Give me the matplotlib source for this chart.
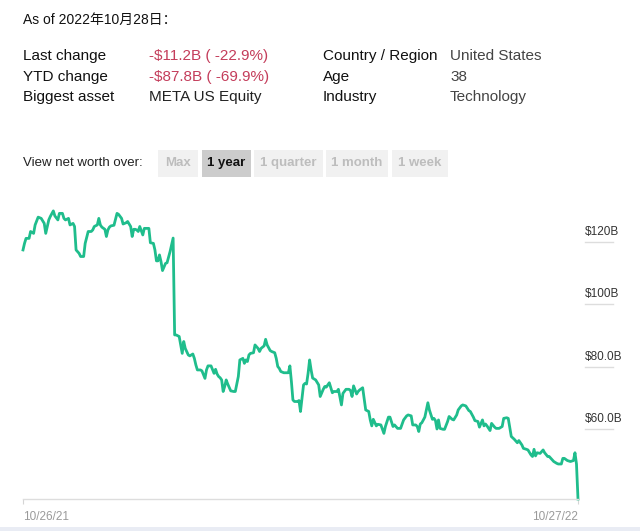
import numpy as np
import pandas as pd
import matplotlib
matplotlib.use("Agg")
import matplotlib.pyplot as plt
import matplotlib.transforms as mtransforms
from matplotlib.patches import Rectangle

plt.rcParams['font.family'] = ['Liberation Sans', 'Noto Sans CJK SC', 'DejaVu Sans']

# ======================
# data
# ======================
START = "2021-10-26"
as_of = "As of 2022年10月28日："

info_left = ["Last change", "YTD change", "Biggest asset"]
info_left_val = ["-$11.2B ( -22.9%)", "-$87.8B ( -69.9%)", "META US Equity"]
info_right = ["Country / Region", "Age", "Industry"]
info_right_val = ["United States", "38", "Technology"]

periods = ["Max", "1 year", "1 quarter", "1 month", "1 week"]
active_period = "1 year"

# days since START
day = [0, 1, 2, 4, 5, 7, 8, 10, 12, 14,
       15, 17, 18, 20, 21, 23, 24, 26, 27, 28,
       30, 31, 33, 34, 35, 37, 38, 40, 41, 43,
       45, 46, 47, 49, 50, 51, 52, 54, 55, 56,
       57, 58, 60, 62, 63, 65, 66, 68, 69, 71,
       72, 73, 74, 75, 76, 77, 78, 79, 80, 82,
       83, 84, 86, 87, 88, 89, 90, 91, 92, 94,
       95, 97, 99, 100, 101, 103, 104, 105, 106, 107,
       109, 110, 112, 113, 114, 115, 117, 118, 120, 121,
       122, 124, 126, 127, 128, 129, 130, 131, 132, 133,
       134, 135, 137, 139, 140, 142, 143, 145, 146, 147,
       148, 149, 150, 152, 153, 155, 156, 157, 159, 160,
       161, 163, 164, 166, 167, 168, 169, 170, 172, 173,
       175, 176, 177, 178, 179, 181, 182, 183, 185, 186,
       187, 188, 189, 190, 191, 193, 195, 196, 198, 199,
       200, 202, 204, 205, 207, 208, 210, 211, 213, 215,
       216, 217, 218, 220, 221, 222, 224, 226, 228, 229,
       230, 231, 233, 234, 236, 238, 239, 241, 242, 244,
       245, 247, 249, 251, 253, 254, 256, 257, 259, 260,
       261, 262, 263, 265, 266, 267, 268, 270, 271, 272,
       273, 274, 275, 277, 278, 280, 281, 283, 284, 286,
       287, 289, 290, 292, 294, 295, 297, 298, 300, 301,
       303, 304, 305, 306, 308, 309, 311, 312, 314, 316,
       317, 319, 320, 321, 322, 324, 326, 327, 329, 330,
       332, 333, 335, 336, 337, 338, 339, 341, 343, 344,
       346, 347, 349, 350, 352, 353, 355, 356, 357, 359,
       361, 363, 364, 365, 366]

# net worth, $B
worth = [117.4, 119.5, 121.1, 121.1, 123.3, 122.7, 125.4, 127.9, 127.5, 125.9,
         122.7, 127.0, 128.1, 129.9, 128.3, 127.0, 129.1, 129.1, 127.5, 127.0,
         127.5, 125.4, 125.9, 124.9, 117.4, 116.3, 115.3, 115.3, 119.5, 123.3,
         123.3, 123.8, 124.9, 125.4, 127.5, 125.4, 124.7, 124.0, 121.7, 123.8,
         124.7, 125.1, 125.3, 129.1, 128.8, 127.5, 125.7, 126.1, 126.5, 124.9,
         121.7, 124.0, 124.0, 123.8, 123.3, 124.9, 123.6, 122.2, 124.3, 124.3,
         124.3, 119.7, 119.5, 117.4, 113.9, 113.9, 115.8, 113.7, 110.8, 113.1,
         113.3, 116.9, 121.2, 90.2, 90.2, 89.7, 87.0, 84.3, 88.1, 85.9,
         83.8, 83.5, 84.1, 82.7, 80.6, 79.0, 79.0, 78.7, 76.3, 79.0,
         80.3, 80.3, 77.9, 79.2, 77.7, 76.9, 76.5, 75.8, 72.1, 73.7,
         75.8, 74.5, 72.3, 72.1, 72.1, 76.9, 82.2, 82.7, 81.1, 82.2,
         81.7, 83.8, 84.3, 84.5, 87.0, 85.9, 84.9, 85.9, 86.7, 88.8,
         87.0, 85.2, 84.9, 84.5, 82.7, 80.1, 79.5, 78.5, 78.1, 78.1,
         78.1, 80.3, 75.3, 69.4, 68.9, 68.9, 69.2, 65.7, 74.2, 74.7,
         74.5, 77.9, 82.2, 79.0, 76.4, 75.8, 74.2, 70.5, 72.8, 73.7,
         73.5, 74.9, 71.7, 72.1, 72.1, 72.8, 67.8, 71.5, 72.8, 72.8,
         72.4, 70.5, 73.9, 71.3, 72.1, 72.6, 73.3, 66.2, 65.7, 63.0,
         61.1, 63.2, 61.1, 61.6, 61.4, 58.7, 60.9, 63.9, 63.9, 60.9,
         61.4, 60.3, 60.3, 63.0, 64.3, 64.6, 64.3, 61.4, 61.4, 60.9,
         59.3, 61.7, 62.1, 63.9, 66.2, 68.5, 66.2, 63.2, 63.5, 62.8,
         60.1, 63.0, 60.3, 60.0, 60.0, 62.5, 64.1, 63.2, 63.0, 64.6,
         66.2, 67.5, 67.8, 67.5, 66.0, 65.7, 63.9, 62.8, 62.5, 60.7,
         63.0, 61.1, 61.7, 61.1, 59.6, 61.9, 60.7, 60.3, 60.3, 60.9,
         63.5, 63.7, 63.5, 60.7, 57.7, 56.8, 55.7, 56.4, 55.0, 53.9,
         53.6, 53.4, 51.8, 51.3, 53.6, 51.5, 52.5, 52.3, 53.4, 52.5,
         51.3, 51.3, 50.2, 49.7, 49.1, 48.9, 48.9, 50.7, 50.7, 50.0,
         49.7, 50.0, 52.5, 48.9, 37.7]

y_ticks = [120, 100, 80, 60]
y_tick_labels = ["$120B", "$100B", "$80.0B", "$60.0B"]
x_tick_labels = ["10/26/21", "10/27/22"]

assert len(day) == len(worth)

# ======================
# figure
# ======================
W, H = 640, 531
GREEN = "#1fbd8c"
RED = "#c43d5b"


def px(x, y):
    return x / W, 1 - y / H


fig = plt.figure(figsize=(W / 100, H / 100), dpi=100)
fig.patch.set_facecolor("white")

# header
fig.text(*px(23, 20), as_of, fontsize=10, color="#111111", va="center", ha="left")

for i in range(3):
    yy = 56 + i * 20.5
    fig.text(*px(23, yy), info_left[i], fontsize=11, color="#111111", va="center")
    fig.text(*px(149, yy), info_left_val[i], fontsize=11,
             color=RED if i < 2 else "#222222", va="center")
    fig.text(*px(323, yy), info_right[i], fontsize=11, color="#111111", va="center")
    fig.text(*px(450, yy), info_right_val[i], fontsize=11, color="#444444", va="center")

# period buttons
fig.text(*px(23, 163), "View net worth over:", fontsize=9.5, color="#222222", va="center")
btn_x = [158, 202, 254, 326, 392]
btn_w = [40, 49, 69, 62, 56]
for name, bx, bw in zip(periods, btn_x, btn_w):
    active = name == active_period
    x0, y0 = px(bx, 177)
    fig.patches.append(Rectangle((x0, y0), bw / W, 27 / H, transform=fig.transFigure,
                                 facecolor="#cccccc" if active else "#f1f1f1",
                                 edgecolor="none", zorder=0))
    fig.text(*px(bx + bw / 2, 163), name, fontsize=9.5, ha="center", va="center",
             color="#111111" if active else "#bdbdbd", fontweight="bold")

# chart
start = pd.Timestamp(START)
dates = start + pd.to_timedelta(day, unit="D")
end = start + pd.Timedelta(days=366)

y_lo, y_hi = 37.7, 133.4
ax_left, ax_right = 23, 578
ax_bottom_px = 499
ax_h_px = (y_hi - y_lo) / 0.32
ax = fig.add_axes([ax_left / W, (H - ax_bottom_px) / H,
                   (ax_right - ax_left) / W, ax_h_px / H])
ax.plot(dates, worth, color=GREEN, linewidth=2.0, solid_joinstyle="round", clip_on=False)
ax.set_xlim(start, end)
ax.set_ylim(y_lo, y_hi)

for s in ["top", "left", "right"]:
    ax.spines[s].set_visible(False)
ax.spines["bottom"].set_color("#dddddd")
ax.spines["bottom"].set_linewidth(1.0)
ax.set_yticks([])
ax.set_xticks([start, end])
ax.set_xticklabels(x_tick_labels)
ax.tick_params(axis="x", length=3.5, width=0.8, color="#d5d5d5", pad=5,
               labelsize=8.5, labelcolor="#9a9a9a")
xl = ax.get_xticklabels()
xl[0].set_ha("left")
xl[1].set_ha("right")

# right side value labels with underline
trans = mtransforms.blended_transform_factory(ax.transAxes, ax.transData)
ul_x0 = (585 - ax_left) / (ax_right - ax_left)
ul_x1 = (613 - ax_left) / (ax_right - ax_left)
for v, lab in zip(y_ticks, y_tick_labels):
    ax.plot([ul_x0, ul_x1], [v, v], transform=trans, color="#dddddd",
            linewidth=1.0, clip_on=False)
    ax.annotate(lab, xy=(ul_x0, v), xycoords=trans, xytext=(0, 3),
                textcoords="offset points", fontsize=8.5, color="#333333",
                ha="left", va="bottom", annotation_clip=False)

# faint strip along the bottom edge
fig.patches.append(Rectangle((0, 0), 1, 4 / H, transform=fig.transFigure,
                             facecolor="#e9ecf4", edgecolor="none"))

fig.savefig("out.png", dpi=100)
